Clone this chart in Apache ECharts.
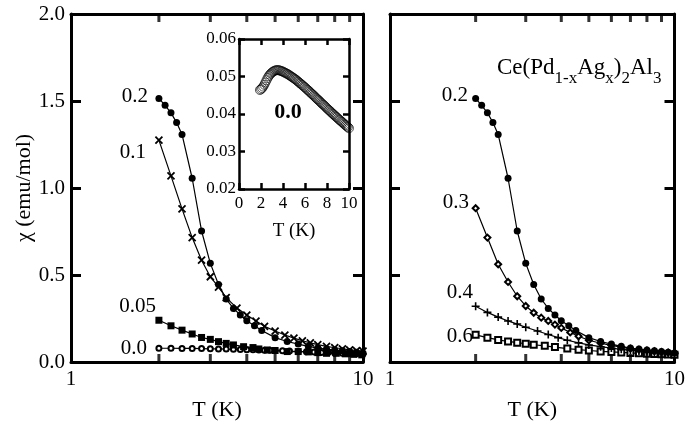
<!DOCTYPE html>
<html>
<head>
<meta charset="utf-8">
<script src="https://cdn.jsdelivr.net/npm/echarts@6/dist/echarts.min.js"></script>
<style>
  html, body { margin: 0; padding: 0; background: #fff; }
  #main { width: 688px; height: 426px; }
</style>
</head>
<body>
<div id="main"></div>
<script>
// tick labels
const xTickLabels = ['1', '10']
const minorT = [2, 3, 4, 5, 6, 7, 8, 9]

// left panel: x = 0.2 (also drawn on the right panel)
const t02 = [2.0, 2.1, 2.2, 2.3, 2.4, 2.6, 2.8, 3.0, 3.2, 3.4, 3.6, 3.8, 4.0, 4.25, 4.5, 5.0, 5.5, 6.0, 6.5, 7.0, 7.5, 8.0, 8.5, 9.0, 9.5, 10.0]
const chi02 = [1.515, 1.475, 1.432, 1.376, 1.308, 1.056, 0.753, 0.567, 0.445, 0.362, 0.308, 0.27, 0.237, 0.208, 0.181, 0.14, 0.118, 0.103, 0.09, 0.08, 0.074, 0.069, 0.064, 0.06, 0.056, 0.052]

// x = 0.1
const t01 = [2.0, 2.2, 2.4, 2.6, 2.8, 3.0, 3.2, 3.4, 3.7, 4.0, 4.3, 4.6, 5.0, 5.4, 5.8, 6.2, 6.6, 7.0, 7.5, 8.0, 8.5, 9.0, 9.5, 10.0]
const chi01 = [1.275, 1.07, 0.88, 0.715, 0.585, 0.49, 0.43, 0.37, 0.31, 0.27, 0.235, 0.205, 0.178, 0.155, 0.137, 0.122, 0.11, 0.1, 0.09, 0.082, 0.076, 0.07, 0.066, 0.062]

// x = 0.05
const t005 = [2.0, 2.2, 2.4, 2.6, 2.8, 3.0, 3.2, 3.4, 3.6, 3.9, 4.2, 4.4, 4.7, 5.0, 5.5, 6.0, 6.5, 7.0, 7.5, 8.1, 8.7, 9.3, 9.9]
const chi005 = [0.24, 0.208, 0.183, 0.161, 0.141, 0.13, 0.117, 0.107, 0.098, 0.088, 0.083, 0.075, 0.069, 0.066, 0.06, 0.06, 0.058, 0.054, 0.05, 0.05, 0.047, 0.044, 0.041]

// x = 0.0
const t00 = [2.0, 2.2, 2.4, 2.6, 2.8, 3.0, 3.2, 3.4, 3.6, 3.8, 4.0, 4.2, 4.4, 4.6, 4.8, 5.0, 5.3, 5.6, 6.0, 6.4, 6.8, 7.2, 7.6, 8.0, 8.5, 9.0, 9.5, 10.0]
const chi00 = [0.079, 0.079, 0.078, 0.078, 0.077, 0.076, 0.075, 0.074, 0.073, 0.072, 0.071, 0.07, 0.069, 0.068, 0.067, 0.066, 0.065, 0.063, 0.061, 0.059, 0.057, 0.055, 0.054, 0.052, 0.05, 0.049, 0.047, 0.046]

// right panel: x = 0.3
const t03 = [2.0, 2.2, 2.4, 2.6, 2.8, 3.0, 3.2, 3.4, 3.6, 3.8, 4.0, 4.3, 4.6, 5.0, 5.5, 6.0, 6.5, 7.0, 7.5, 8.0, 8.5, 9.0, 9.5, 10.0]
const chi03 = [0.884, 0.715, 0.562, 0.46, 0.378, 0.322, 0.283, 0.255, 0.236, 0.215, 0.196, 0.17, 0.148, 0.125, 0.108, 0.095, 0.085, 0.077, 0.071, 0.066, 0.062, 0.058, 0.055, 0.052]

// x = 0.4
const t04 = [2.0, 2.2, 2.4, 2.6, 2.8, 3.0, 3.3, 3.6, 3.9, 4.2, 4.6, 5.0, 5.5, 6.0, 6.5, 7.0, 7.5, 8.0, 8.5, 9.0, 9.5, 10.0]
const chi04 = [0.32, 0.285, 0.258, 0.236, 0.218, 0.2, 0.178, 0.158, 0.14, 0.125, 0.11, 0.098, 0.088, 0.08, 0.073, 0.068, 0.063, 0.059, 0.056, 0.053, 0.05, 0.048]

// x = 0.6
const t06 = [2.0, 2.2, 2.4, 2.6, 2.8, 3.0, 3.2, 3.5, 3.8, 4.2, 4.6, 5.0, 5.5, 6.0, 6.5, 7.0, 7.5, 8.0, 8.5, 9.0, 9.5, 10.0]
const chi06 = [0.156, 0.14, 0.127, 0.118, 0.111, 0.105, 0.099, 0.093, 0.086, 0.077, 0.071, 0.066, 0.061, 0.058, 0.055, 0.052, 0.05, 0.048, 0.046, 0.044, 0.043, 0.042]

// inset: x = 0.0, linear T
const tIn = [1.9, 2.0, 2.1, 2.2, 2.3, 2.4, 2.5, 2.6, 2.7, 2.8, 2.9, 3.0, 3.1, 3.2, 3.3, 3.4, 3.5, 3.6, 3.7, 3.8, 3.9,
  4.0, 4.1, 4.2, 4.3, 4.4, 4.5, 4.6, 4.7, 4.8, 4.9, 5.0, 5.1, 5.2, 5.3, 5.4, 5.5, 5.6, 5.7, 5.8, 5.9,
  6.0, 6.1, 6.2, 6.3, 6.4, 6.5, 6.6, 6.7, 6.8, 6.9, 7.0, 7.1, 7.2, 7.3, 7.4, 7.5, 7.6, 7.7, 7.8, 7.9,
  8.0, 8.1, 8.2, 8.3, 8.4, 8.5, 8.6, 8.7, 8.8, 8.9, 9.0, 9.1, 9.2, 9.3, 9.4, 9.5, 9.6, 9.7, 9.8, 9.9, 10.0]
const chiIn = [0.0464, 0.0466, 0.0469, 0.0473, 0.0478, 0.0484, 0.049, 0.0496, 0.0501, 0.0505, 0.0508, 0.0511, 0.0513, 0.0515, 0.0516, 0.0517, 0.0517, 0.0517, 0.0516, 0.0515, 0.0514,
  0.0513, 0.0511, 0.051, 0.0508, 0.0507, 0.0505, 0.0503, 0.0501, 0.0499, 0.0497, 0.0495, 0.0493, 0.0491, 0.0488, 0.0486, 0.0483, 0.0481, 0.0478, 0.0476, 0.0473,
  0.0471, 0.0468, 0.0465, 0.0463, 0.046, 0.0457, 0.0454, 0.0452, 0.0449, 0.0446, 0.0443, 0.044, 0.0438, 0.0435, 0.0432, 0.0429, 0.0426, 0.0424, 0.0421, 0.0418,
  0.0415, 0.0412, 0.041, 0.0407, 0.0404, 0.0401, 0.0399, 0.0396, 0.0393, 0.0391, 0.0388, 0.0385, 0.0383, 0.038, 0.0378, 0.0375, 0.0372, 0.037, 0.0367, 0.0365, 0.0362]

const FONT = 'Liberation Serif'
const BLACK = '#000'

const zip = (xs, ys) => xs.map((x, i) => [x, ys[i]])

const crossPath = 'path://M0,0L10,10M0,10L10,0'
const plusPath = 'path://M5,0L5,10M0,5L10,5'

const chart = echarts.init(document.getElementById('main'), null, { renderer: 'canvas' })

const axLine = { show: true, onZero: false, lineStyle: { color: BLACK, width: 3 } }

const logX = (grid, pos, labels) => ({
  type: 'log', logBase: 10, min: 1, max: 10, gridIndex: grid, position: pos,
  axisLine: axLine,
  axisTick: { show: false },
  splitLine: { show: false },
  axisLabel: labels ? {
    show: true, color: BLACK, fontFamily: FONT, fontSize: 21, margin: 7,
    formatter: v => (v === 1 ? xTickLabels[0] : xTickLabels[1])
  } : { show: false },
  name: labels ? 'T (K)' : '',
  nameLocation: 'middle', nameGap: 37,
  nameTextStyle: { color: BLACK, fontFamily: FONT, fontSize: 22 }
})

const chiY = (grid, pos, labels, name) => ({
  type: 'value', min: 0, max: 2, interval: 0.5, gridIndex: grid, position: pos,
  axisLine: axLine,
  axisTick: { show: true, inside: true, length: 10, lineStyle: { color: BLACK, width: 3 } },
  splitLine: { show: false },
  axisLabel: labels ? {
    show: true, color: BLACK, fontFamily: FONT, fontSize: 21, margin: 6,
    formatter: v => v.toFixed(1)
  } : { show: false },
  name: name || '',
  nameLocation: 'middle', nameGap: 36,
  nameTextStyle: { color: BLACK, fontFamily: FONT, fontSize: 22 }
})

const tickSeries = (xi, yi) => [
  {
    type: 'scatter', xAxisIndex: xi, yAxisIndex: yi, silent: true, z: 5,
    symbol: 'rect', symbolSize: [3, 8], symbolOffset: [0, -4],
    itemStyle: { color: BLACK },
    data: minorT.map(t => [t, 0])
  },
  {
    type: 'scatter', xAxisIndex: xi, yAxisIndex: yi, silent: true, z: 5,
    symbol: 'rect', symbolSize: [3, 8], symbolOffset: [0, 4],
    itemStyle: { color: BLACK },
    data: minorT.map(t => [t, 2])
  }
]

const curve = (xi, yi, data, symbol, size, bw) => ({
  type: 'line', xAxisIndex: xi, yAxisIndex: yi, data: data,
  symbol: symbol, symbolSize: size, showAllSymbol: true,
  lineStyle: { color: BLACK, width: 1.2 },
  itemStyle: { color: BLACK, borderColor: BLACK, borderWidth: bw },
  z: 3
})

const txt = (x, y, text, size, align, bold) => ({
  type: 'text', x: x, y: y, z: 10,
  style: {
    text: text, fill: BLACK, align: align || 'right', verticalAlign: 'middle',
    font: (bold ? 'bold ' : '') + size + 'px ' + FONT
  }
})

chart.setOption({
  animation: false,
  backgroundColor: '#fff',
  grid: [
    { left: 71, top: 14, width: 292, height: 351 },
    { left: 390, top: 14, width: 287, height: 350 },
    { left: 239, top: 39, width: 110, height: 150, show: true, backgroundColor: '#fff', borderWidth: 0, z: 4 }
  ],
  xAxis: [
    logX(0, 'bottom', true),
    logX(0, 'top', false),
    logX(1, 'bottom', true),
    logX(1, 'top', false),
    {
      type: 'value', min: 0, max: 10, interval: 2, gridIndex: 2, position: 'bottom', z: 6,
      axisLine: { show: true, onZero: false, lineStyle: { color: BLACK, width: 2.5 } },
      axisTick: { show: true, inside: true, length: 6, lineStyle: { color: BLACK, width: 2.5 } },
      splitLine: { show: false },
      axisLabel: { color: BLACK, fontFamily: FONT, fontSize: 17, margin: 6 },
      name: 'T (K)', nameLocation: 'middle', nameGap: 33,
      nameTextStyle: { color: BLACK, fontFamily: FONT, fontSize: 19 }
    },
    {
      type: 'value', min: 0, max: 10, interval: 2, gridIndex: 2, position: 'top', z: 6,
      axisLine: { show: true, onZero: false, lineStyle: { color: BLACK, width: 2.5 } },
      axisTick: { show: true, inside: true, length: 6, lineStyle: { color: BLACK, width: 2.5 } },
      splitLine: { show: false },
      axisLabel: { show: false }
    }
  ],
  yAxis: [
    chiY(0, 'left', true, 'χ (emu/mol)'),
    chiY(0, 'right', false),
    chiY(1, 'left', false),
    chiY(1, 'right', false),
    {
      type: 'value', min: 0.02, max: 0.06, interval: 0.01, gridIndex: 2, position: 'left', z: 6,
      axisLine: { show: true, onZero: false, lineStyle: { color: BLACK, width: 2.5 } },
      axisTick: { show: true, inside: true, length: 6, lineStyle: { color: BLACK, width: 2.5 } },
      splitLine: { show: false },
      axisLabel: { color: BLACK, fontFamily: FONT, fontSize: 17, margin: 3, formatter: v => v.toFixed(2) }
    },
    {
      type: 'value', min: 0.02, max: 0.06, interval: 0.01, gridIndex: 2, position: 'right', z: 6,
      axisLine: { show: true, onZero: false, lineStyle: { color: BLACK, width: 2.5 } },
      axisTick: { show: true, inside: true, length: 6, lineStyle: { color: BLACK, width: 2.5 } },
      splitLine: { show: false },
      axisLabel: { show: false }
    }
  ],
  series: [
    ...tickSeries(0, 0),
    ...tickSeries(2, 2),
    // left panel
    curve(0, 0, zip(t00, chi00), 'emptyCircle', 5, 1),
    curve(0, 0, zip(t005, chi005), 'rect', 7, 0),
    curve(0, 0, zip(t01, chi01), crossPath, 7, 1.8),
    curve(0, 0, zip(t02, chi02), 'circle', 7, 0),
    // right panel
    curve(2, 2, zip(t06, chi06), 'emptyRect', 6, 1.5),
    curve(2, 2, zip(t04, chi04), plusPath, 8, 1.6),
    curve(2, 2, zip(t03, chi03), 'emptyDiamond', 6, 1.8),
    curve(2, 2, zip(t02, chi02), 'circle', 7, 0),
    // inset
    {
      type: 'scatter', xAxisIndex: 4, yAxisIndex: 4, data: zip(tIn, chiIn), z: 5,
      symbol: 'circle', symbolSize: 9,
      itemStyle: { color: 'rgba(0,0,0,0)', borderColor: BLACK, borderWidth: 0.8 }
    }
  ],
  graphic: [
    txt(148, 96, '0.2', 21),
    txt(146, 152, '0.1', 21),
    txt(156, 306, '0.05', 21),
    txt(147, 348, '0.0', 21),
    txt(468, 95, '0.2', 21),
    txt(469, 202, '0.3', 21),
    txt(473, 292, '0.4', 21),
    txt(473, 336, '0.6', 21),
    txt(288, 112, '0.0', 22, 'center', true),
    {
      type: 'text', x: 497, y: 56, z: 10,
      style: {
        text: '{m|Ce(Pd}{s|1-x}{m|Ag}{s|x}{m|)}{s|2}{m|Al}{s|3}',
        fill: BLACK,
        rich: {
          m: { fontFamily: FONT, fontSize: 23, lineHeight: 24, verticalAlign: 'top', fill: BLACK },
          s: { fontFamily: FONT, fontSize: 17, lineHeight: 16, verticalAlign: 'top', padding: [14, 0, 0, 0], fill: BLACK }
        }
      }
    }
  ]
})
</script>
</body>
</html>
